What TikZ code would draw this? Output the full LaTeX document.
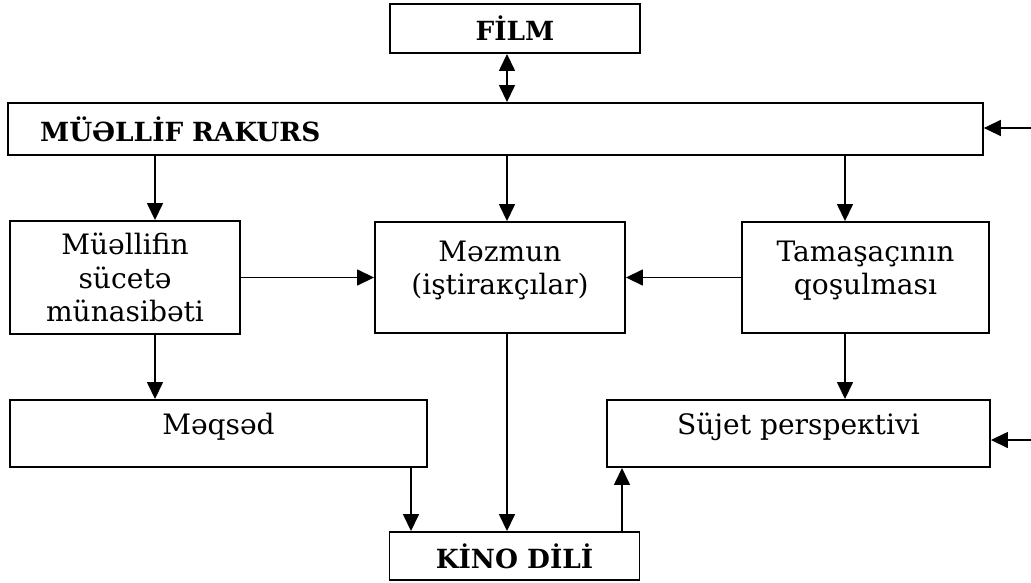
\documentclass[tikz,border=0pt]{standalone}
\usepackage{fontspec}
\setmainfont{DejaVu Serif}
\usetikzlibrary{arrows.meta, positioning}

\begin{document}
\begin{tikzpicture}[x=0.02cm, y=-0.02cm,
  box/.style={rectangle, draw, line width=1.1pt, inner sep=0.1cm, font=\fontsize{16}{19}\selectfont, align=center},
  title/.style={box, font=\fontsize{15}{18}\selectfont\bfseries},
  lifted/.style={text depth=0.38cm},
  arrow/.style={-{Triangle[length=0.34cm, width=0.32cm]}, line width=0.85pt}
]
\useasboundingbox (0,0) rectangle (1031,582);

% boxes
\node[title, minimum width=5cm, minimum height=0.98cm] (film) at (515,28.5) {FİLM};
\node[title, minimum height=1.04cm, text width=18.22cm, inner xsep=0.64cm, align=left] (rakurs) at (495.5,129) {MÜƏLLİF RAKURS};
\node[box, minimum width=4.6cm, minimum height=2.26cm] (muellif) at (125,277.5) {Müəllifin\\sücetə\\münasibəti};
\node[box, lifted, minimum width=5cm, minimum height=2.22cm] (mezmun) at (500,277.5) {Məzmun\\(iştiraкçılar)};
\node[box, lifted, minimum width=4.94cm, minimum height=2.22cm] (tamasa) at (865.5,277.5) {Tamaşaçının\\qoşulması};
\node[box, lifted, minimum width=8.34cm, minimum height=1.34cm] (meqsed) at (218.5,433.5) {Məqsəd};
\node[box, lifted, minimum width=7.66cm, minimum height=1.34cm] (sujet) at (798.5,433.5) {Süjet perspeкtivi};
\node[title, minimum width=5cm, minimum height=0.96cm] (kino) at (514.5,556) {KİNO DİLİ};

% columns of the arrows
\coordinate (c1) at (155,0);
\coordinate (c2) at (507,0);
\coordinate (c3) at (845,0);
\coordinate (c4) at (411,0);
\coordinate (c5) at (622,0);
\coordinate (e1) at (1031,128);
\coordinate (e2) at (1031,440);

% arrows
\draw[arrow, {Triangle[length=0.34cm, width=0.32cm]}-{Triangle[length=0.34cm, width=0.32cm]}] (film.south -| c2) -- (rakurs.north -| c2);
\draw[arrow] (e1) -- (rakurs.east |- e1);
\draw[arrow] (rakurs.south -| c1) -- (muellif.north -| c1);
\draw[arrow] (rakurs.south -| c2) -- (mezmun.north -| c2);
\draw[arrow] (rakurs.south -| c3) -- (tamasa.north -| c3);
\draw[arrow] (muellif.east) -- (mezmun.west);
\draw[arrow] (tamasa.west) -- (mezmun.east);
\draw[arrow] (muellif.south -| c1) -- (meqsed.north -| c1);
\draw[arrow] (tamasa.south -| c3) -- (sujet.north -| c3);
\draw[arrow] (e2) -- (sujet.east |- e2);
\draw[arrow] (meqsed.south -| c4) -- (kino.north -| c4);
\draw[arrow] (mezmun.south -| c2) -- (kino.north -| c2);
\draw[arrow] (kino.north -| c5) -- (sujet.south -| c5);
\end{tikzpicture}
\end{document}
